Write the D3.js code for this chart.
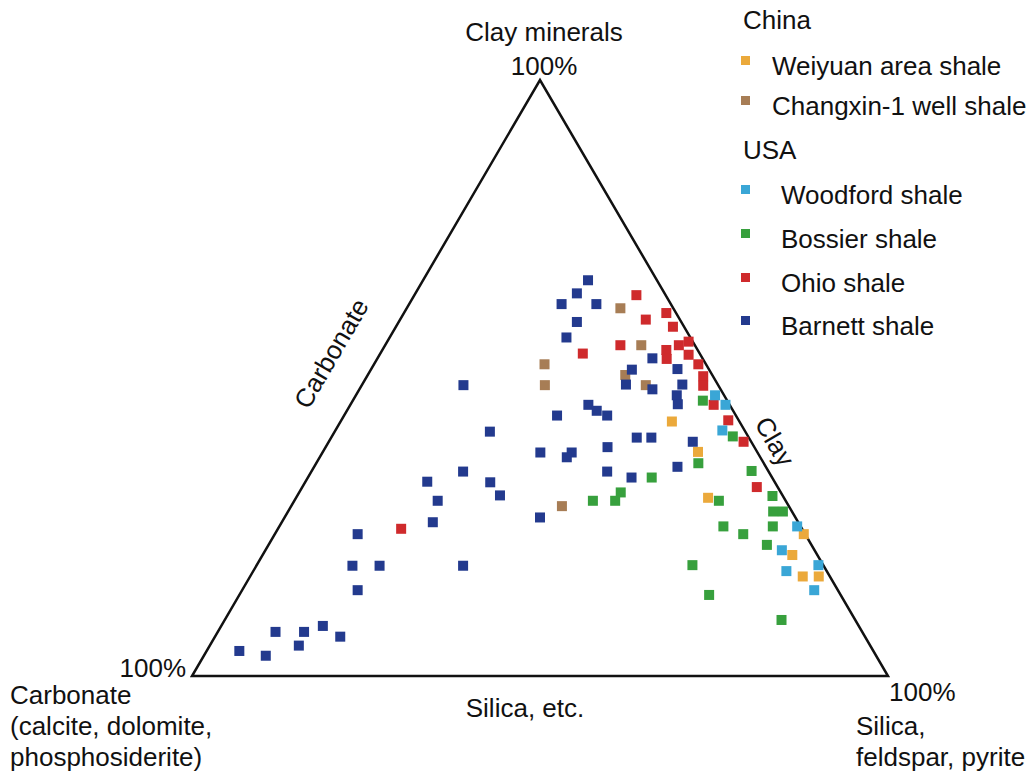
<!DOCTYPE html>
<html lang="en">
<head>
<meta charset="utf-8">
<title>Shale mineral composition ternary</title>
<style>
  html, body { margin: 0; padding: 0; background: #fff; }
  svg { display: block; font-family: "Liberation Sans", Arial, Helvetica, sans-serif; }
  .lbl { font-size: 26px; fill: #111; }
</style>
</head>
<body>
<svg width="1034" height="773"></svg>
<script src="https://d3js.org/d3.v7.min.js"></script>
<script>
// ternary values: [clay %, silica %], carbonate = rest
var weiyuan = [[42.7,47.6],[37.6,53.9],[29.9,59.2],[23.8,76.0],[20.3,76.1],[16.7,79.4],[16.7,81.7]];
var changxin = [[61.7,30.7],[55.5,36.8],[52.3,24.5],[48.8,26.3],[50.5,37.0],[48.8,40.8],[28.5,38.9]];
var woodford = [[47.1,51.6],[45.5,53.9],[41.2,55.6],[25.1,74.4],[21.1,74.2],[18.6,80.7],[17.6,76.6],[14.4,82.2]];
var bossier = [[46.2,50.3],[40.2,57.6],[35.7,54.9],[34.4,63.2],[29.4,61.0],[30.2,68.3],[27.6,69.7],[27.6,71.1],
  [25.1,63.8],[23.8,67.3],[25.1,70.9],[22.0,71.6],[18.6,62.6],[13.6,67.5],[9.4,80.0],[33.3,49.4],
  [30.8,46.2],[29.4,46.1],[29.4,42.9]];
var ohio = [[63.9,31.9],[59.8,35.3],[60.9,37.7],[58.6,39.8],[55.5,33.8],[54.1,29.1],[54.7,40.8],[53.2,41.6],
  [55.5,42.2],[56.1,43.3],[53.9,44.4],[52.3,46.6],[50.3,48.3],[48.7,49.1],[45.5,52.2],[42.9,55.6],
  [39.3,59.6],[31.7,65.3],[24.7,17.7]];
var barnett = [[66.4,23.7],[64.2,23.2],[62.4,21.9],[62.4,26.9],[59.4,25.6],[56.8,25.4],[53.3,39.5],[51.4,37.5],
  [51.5,44.0],[48.9,37.9],[48.9,46.0],[48.1,42.1],[47.1,46.1],[45.6,47.0],[45.5,34.2],[44.5,35.9],
  [43.7,37.8],[43.7,30.6],[40.0,43.9],[40.0,46.0],[39.3,52.3],[37.5,31.3],[37.5,35.8],[36.7,35.5],
  [38.4,40.5],[35.1,52.2],[34.3,42.5],[33.3,46.5],[26.6,36.7],[48.8,14.6],[41.0,22.3],[34.3,21.8],
  [32.6,17.5],[32.5,26.6],[30.3,29.1],[29.4,20.6],[25.8,21.7],[23.8,11.9],[18.5,13.8],[18.5,17.7],
  [18.5,29.7],[14.4,16.6],[7.4,8.3],[7.4,12.4],[8.4,14.6],[6.6,18.0],[5.1,12.8],[4.2,4.7],[3.4,8.9]];

var seriesNames = ["Weiyuan area shale", "Changxin-1 well shale", "Woodford shale", "Bossier shale", "Ohio shale", "Barnett shale"];
var seriesColors = ["#eba93b", "#a77d55", "#3aa6d6", "#37a03d", "#cf2a2c", "#233a8e"];
var seriesData = [weiyuan, changxin, woodford, bossier, ohio, barnett];
var drawOrder = [1, 0, 3, 4, 2, 5];

var svg = d3.select("svg");

// silica along the base, clay upwards
var x = d3.scaleLinear().domain([0, 100]).range([192, 888]);
var y = d3.scaleLinear().domain([0, 100]).range([676, 80]);
function px(d) { return x(d[1] + d[0] / 2); }
function py(d) { return y(d[0]); }

// triangle: carbonate, silica, clay corners
svg.append("path")
  .attr("d", d3.line().x(px).y(py)([[0, 0], [0, 100], [100, 0]]) + "Z")
  .attr("fill", "none")
  .attr("stroke", "#111")
  .attr("stroke-width", 2.5)
  .attr("stroke-linejoin", "miter");

// points
drawOrder.forEach(function(i) {
  svg.append("g").selectAll("rect")
    .data(seriesData[i])
    .enter().append("rect")
    .attr("x", function(d) { return px(d) - 5; })
    .attr("y", function(d) { return py(d) - 5; })
    .attr("width", 10)
    .attr("height", 10)
    .attr("fill", seriesColors[i]);
});

// labels
function text(t, tx, ty, anchor, rot) {
  var el = svg.append("text").attr("class", "lbl")
    .attr("text-anchor", anchor || "start")
    .text(t);
  if (rot) el.attr("transform", "translate(" + tx + "," + ty + ") rotate(" + rot + ")");
  else el.attr("x", tx).attr("y", ty);
  return el;
}
var edgeAngle = Math.atan2(y(0) - y(100), x(50) - x(0)) * 180 / Math.PI;

text("Clay minerals", 544, 41, "middle");
text("100%", 544, 75, "middle");
text("Carbonate", 339, 358, "middle", -edgeAngle);
text("Clay", 767, 446, "middle", edgeAngle);
text("100%", 186, 677, "end");
text("Carbonate", 10, 704);
text("(calcite, dolomite,", 10, 735);
text("phosphosiderite)", 10, 766);
text("Silica, etc.", 525, 717, "middle");
text("100%", 889, 701);
text("Silica,", 856, 735);
text("feldspar, pyrite", 856, 766);

// legend
var legendRows = [
  { head: "China", y: 29 },
  { s: 0, y: 75, tx: 772 },
  { s: 1, y: 115, tx: 772 },
  { head: "USA", y: 159 },
  { s: 2, y: 204, tx: 781 },
  { s: 3, y: 248, tx: 781 },
  { s: 4, y: 292, tx: 781 },
  { s: 5, y: 335, tx: 781 }
];
legendRows.forEach(function(r) {
  if (r.head) { text(r.head, 743, r.y); return; }
  svg.append("rect")
    .attr("x", 741).attr("y", r.y - 19)
    .attr("width", 9).attr("height", 9)
    .attr("fill", seriesColors[r.s]);
  text(seriesNames[r.s], r.tx, r.y);
});
</script>
</body>
</html>
